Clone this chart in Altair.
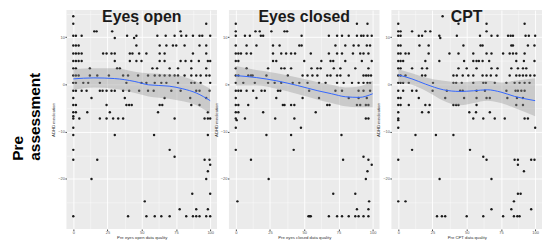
import altair as alt
import pandas as pd

# ---------------- data ----------------
# rows: (ADHD value, [data-quality x values])
EO_ROWS = [
    (14.47, [0]),
    (12.86, [0, 46.8, 97.1]),
    (11.25, [15.3, 17.0, 28.4, 78.4]),
    (10.34, [0, 1.9, 6.1, 39.3, 46.1, 61.4, 67.5, 74.0, 78.9, 82.5, 87.4, 92.2, 94.2, 100]),
    (9.85, [30.3, 44.4]),
    (8.25, [0, 1.9, 3.9, 46.1, 63.1, 68.0, 72.8, 75.2, 81.3, 92.2, 97.1]),
    (6.57, [0, 1.9, 3.9, 6.1, 21.8, 24.3, 27.9, 30.3, 41.3, 43.2, 48.1, 53.4, 63.1, 66.7, 87.4, 97.1]),
    (4.96, [0, 1.9, 3.9, 6.1, 30.3, 41.3, 46.1, 49.8, 63.1, 66.7, 78.4, 82.0, 86.2, 91.7, 98.3, 100]),
    (3.42, [0, 1.9, 12.1, 32.0, 34.0, 57.8, 61.2, 70.4, 76.5, 86.2, 97.1]),
    (1.89, [0, 1.9, 3.9, 12.1, 17.5, 26.0, 36.4, 40.0, 47.3, 54.6, 59.5, 63.1, 66.7, 70.4, 74.0, 76.5, 81.3, 86.2, 89.8, 93.0, 97.1, 99.5]),
    (0.35, [0, 1.9, 7.3, 10.9, 19.4, 38.8, 49.8, 53.4, 59.5, 64.3, 68.0, 76.5, 86.2, 88.6, 93.0, 100]),
    (-1.33, [0, 1.9, 6.1, 9.7, 19.4, 21.4, 24.3, 27.9, 30.3, 36.4, 40.8, 48.1, 54.6, 58.7, 71.6, 78.4, 89.8, 92.2, 99.5]),
    (-2.87, [0, 13.3, 37.6, 66.7, 85.4, 97.1]),
    (-4.33, [0, 1.9, 24.3, 38.8, 40.8, 42.7, 63.1, 65.0, 86.2, 92.2]),
    (-5.87, [0, 1.9, 10.2, 26.7, 61.9, 98.3]),
    (-6.71, [0]),
    (-7.20, [0, 4.4, 19.4, 24.3, 29.1, 32.8, 36.4, 74.0, 95.9, 98.3, 100]),
    (-9.15, [0]),
    (-10.69, [0, 30.3, 59.0, 98.3]),
    (-13.84, [0, 70.4]),
    (-15.30, [74.0]),
    (-15.93, [0, 17.5, 95.9, 99.5]),
    (-16.98, [100]),
    (-18.38, [98.3]),
    (-19.99, [13.3, 97.1]),
    (-23.13, [86.9, 100]),
    (-24.74, [52.2]),
    (-26.42, [77.7, 89.8, 98.3]),
    (-27.88, [0, 40.0, 53.4, 59.5, 64.3, 70.4, 82.5, 87.4, 89.8, 92.2, 97.1, 100]),
]

EC_ROWS = [
    (12.86, [0, 88.5, 96.2]),
    (11.25, [0, 14.4, 17.5, 26.0, 35.6, 37.5]),
    (10.34, [0, 6.7, 10.3, 18.3, 20.0, 48.1, 68.0, 74.0, 77.6, 82.5, 88.5, 91.6, 93.3, 96.2, 99.3]),
    (8.25, [0, 7.9, 15.1, 27.2, 32.0, 46.4, 48.1, 72.8, 80.0, 86.1, 89.7, 95.7, 98.1]),
    (6.57, [0, 1.9, 3.8, 7.9, 11.1, 27.2, 33.2, 36.8, 40.4, 43.3, 54.8, 68.0, 74.0, 77.6, 85.6, 90.9, 93.3, 96.9]),
    (4.96, [0, 1.9, 27.2, 29.6, 50.0, 62.5, 69.2, 71.2, 80.0, 92.1, 99.3]),
    (3.42, [0, 7.9, 23.6, 33.2, 35.6, 40.4, 55.3, 59.6, 62.0, 71.6, 76.4, 87.3, 96.9]),
    (1.89, [0, 1.9, 9.1, 11.1, 12.3, 22.4, 38.0, 48.8, 52.4, 56.0, 59.6, 66.8, 69.2, 74.0, 76.4, 82.5, 93.3, 95.2, 96.9, 98.8]),
    (0.35, [0, 5.5, 13.9, 23.6, 28.4, 33.2, 41.6, 46.4, 52.4, 60.8, 65.6, 74.0, 78.8, 84.9, 89.7, 93.3, 96.2, 98.1]),
    (-1.33, [0, 1.9, 3.8, 7.9, 12.7, 18.8, 21.2, 30.8, 32.5, 53.6, 72.8, 77.6, 89.7, 93.3, 98.1]),
    (-2.87, [0, 15.1, 29.6, 48.8, 60.8, 82.5, 89.7, 95.7]),
    (-4.33, [0, 1.9, 9.1, 34.4, 35.6, 40.4, 42.8, 66.8, 68.5, 88.5, 90.9, 95.0, 96.9]),
    (-5.87, [0, 1.9, 20.0, 58.4]),
    (-7.20, [0, 6.7, 28.8, 42.8, 95.0, 96.9]),
    (-7.55, [0.7]),
    (-9.15, [0, 47.6]),
    (-10.69, [22.4, 40.4, 77.2]),
    (-13.84, [0, 42.3]),
    (-15.30, [93.3]),
    (-15.93, [11.1, 78.4, 96.9]),
    (-16.98, [99.3]),
    (-18.38, [96.2]),
    (-19.99, [24.0, 95.0]),
    (-23.13, [71.2, 87.3]),
    (-24.74, [1.2, 97.4]),
    (-26.42, [88.5, 96.9]),
    (-27.88, [53.1, 54.1, 54.8, 68.0, 74.0, 77.6, 82.5, 87.3, 89.7, 93.3, 96.9]),
]

CPT_ROWS = [
    (14.47, [32.4]),
    (12.86, [0, 44.0, 64.5, 92.3]),
    (11.25, [0, 1.7, 10.1, 19.8, 23.4, 64.5]),
    (10.34, [0, 1.7, 15.0, 17.4, 30.0, 42.8, 59.7, 68.1, 72.5, 80.2, 82.1, 83.8, 93.0, 95.4, 100]),
    (9.85, [30.7]),
    (8.25, [0, 1.7, 15.5, 22.2, 47.6, 60.1, 61.6, 82.6, 83.8, 94.7, 99.5]),
    (6.57, [0, 1.7, 5.3, 7.7, 22.2, 37.4, 44.0, 54.8, 64.5, 68.1, 76.6, 81.4, 83.8, 86.2, 92.3]),
    (4.96, [0, 1.7, 3.6, 19.8, 30.0, 48.1, 54.8, 57.2, 58.9, 61.6, 66.4, 86.2, 91.8, 99.5]),
    (3.42, [0, 1.7, 10.1, 17.4, 21.0, 44.0, 50.0, 57.2, 68.1, 72.5, 82.6, 87.4, 91.1, 93.5]),
    (1.89, [0, 1.7, 5.3, 17.4, 19.8, 40.3, 42.8, 47.1, 51.2, 54.8, 61.6, 64.5, 67.6, 71.7, 81.4, 86.2, 88.6, 91.1, 93.5, 96.4, 99.5]),
    (0.35, [0, 1.7, 3.6, 7.7, 25.4, 40.3, 42.3, 46.4, 54.8, 62.1, 64.0, 70.5, 79.0, 85.0, 88.6, 92.3, 95.9]),
    (-1.33, [0, 3.6, 10.1, 13.3, 25.1, 35.5, 45.2, 47.1, 57.2, 63.3, 79.0, 85.7, 87.4, 89.9, 92.3]),
    (-2.87, [0, 1.7, 15.0, 34.3, 48.1, 57.2, 64.5, 66.9, 79.7, 86.7, 91.1]),
    (-4.33, [0, 1.7, 7.7, 19.8, 22.9, 40.3, 42.3, 44.0, 57.2, 86.2, 91.1]),
    (-5.87, [0, 17.4, 22.2, 51.9, 56.8, 66.9]),
    (-7.20, [0, 54.8, 62.1, 70.5, 77.8, 92.3, 94.7]),
    (-7.55, [0]),
    (-9.15, [0, 100]),
    (-10.69, [12.6, 27.5, 40.3]),
    (-13.84, [10.1, 52.4]),
    (-15.30, [62.1]),
    (-15.93, [0, 64.5, 85.0, 87.4, 97.1, 99.5]),
    (-16.98, [87.4]),
    (-18.38, [91.8]),
    (-19.99, [30.2, 68.1]),
    (-23.13, [87.4, 89.4]),
    (-24.74, [0, 5.3, 84.5]),
    (-26.42, [68.1, 82.6, 97.1]),
    (-27.88, [28.3, 31.9, 34.3, 50.0, 62.1, 76.6, 84.5, 87.0, 88.6]),
]

# loess fit and confidence band
EO_SX = [0, 15, 30, 45, 55, 70, 80, 90, 100]
EO_FIT = [1.19, 1.40, 1.26, 0.63, -0.07, -0.35, -0.91, -1.82, -3.42]
EO_LO = [-1.12, -0.63, -0.91, -1.82, -2.52, -3.00, -3.56, -4.40, -6.19]
EO_HI = [3.21, 3.42, 3.42, 2.72, 2.38, 2.17, 1.68, 0.63, -0.91]

EC_SX = [0, 15, 30, 45, 60, 70, 80, 90, 100]
EC_FIT = [1.89, 1.47, 0.77, -0.21, -1.33, -1.96, -2.59, -2.73, -1.96]
EC_LO = [-0.21, -0.21, -0.91, -2.03, -3.21, -3.91, -4.61, -4.82, -4.82]
EC_HI = [3.91, 3.07, 2.38, 1.47, 0.49, -0.07, -0.63, -0.42, 0.77]

CPT_SX = [0, 10, 20, 33, 45, 55, 65, 75, 85, 100]
CPT_FIT = [2.03, 1.19, 0.07, -1.12, -1.47, -1.33, -1.12, -1.61, -2.52, -3.42]
CPT_LO = [0.49, -0.07, -1.33, -3.42, -4.40, -3.91, -3.42, -3.91, -4.96, -6.71]
CPT_HI = [3.21, 2.38, 1.47, 0.77, 0.49, 0.63, 0.77, 0.42, 0.77, 1.33]

TITLES = ["Eyes open", "Eyes closed", "CPT"]
XTITLES = ["Pre eyes open data quality", "Pre eyes closed data quality", "Pre CPT data quality"]
YTITLE = "ADHD medication"
ROW_LABEL = ["Pre", "assessment"]

X_TICKS = [0, 12.5, 25, 37.5, 50, 62.5, 75, 87.5, 100]
Y_TICKS = [-25, -20, -15, -10, -5, 0, 5, 10, 15]

W, H = 152, 221
FONT = "Liberation Sans"


def panel(rows, sx, fit, lo, hi, title, xtitle, first=False):
    pts = pd.DataFrame([(x, y) for y, xs in rows for x in xs], columns=["x", "y"])
    sm = pd.DataFrame({"x": sx, "fit": fit, "lo": lo, "hi": hi})
    xsc = alt.Scale(domain=[-5, 105], nice=False, zero=False)
    ysc = alt.Scale(domain=[-30.6, 15.76], nice=False, zero=False)
    xaxis = alt.Axis(
        values=X_TICKS,
        labelExpr="datum.value % 25 === 0 ? datum.label : ''",
        tickOpacity={"condition": {"test": "datum.value % 25 !== 0", "value": 0}, "value": 1},
        gridWidth={"condition": {"test": "datum.value % 25 !== 0", "value": 0.4}, "value": 0.9},
        titlePadding=0.5,
    )
    yaxis = alt.Axis(
        values=Y_TICKS,
        labelExpr="datum.value % 10 === 0 ? datum.label : ''",
        tickOpacity={"condition": {"test": "datum.value % 10 !== 0", "value": 0}, "value": 1},
        gridWidth={"condition": {"test": "datum.value % 10 !== 0", "value": 0.4}, "value": 0.9},
    )
    X = lambda f: alt.X(f, type="quantitative", scale=xsc, axis=xaxis, title=xtitle)
    Y = lambda f: alt.Y(f, type="quantitative", scale=ysc, axis=yaxis, title=YTITLE)

    points = alt.Chart(pts).mark_circle(size=6, color="#1a1a1a", opacity=1).encode(x=X("x"), y=Y("y"))
    band = alt.Chart(sm).mark_area(color="#999999", opacity=0.4, interpolate="monotone").encode(
        x=X("x"), y=Y("lo"), y2="hi")
    line = alt.Chart(sm).mark_line(color="#3366FF", strokeWidth=1, interpolate="monotone").encode(
        x=X("x"), y=Y("fit"))
    ttl = alt.Chart(pd.DataFrame({"t": [title]})).mark_text(
        font=FONT, fontSize=16, fontWeight="bold", color="#1a1a1a", align="center", baseline="alphabetic"
    ).encode(text="t:N", x=alt.value(W / 2), y=alt.value(12))
    layers = [points, band, line, ttl]
    if first:
        for lbl, xp in zip(ROW_LABEL, [-43.5, -27.0]):
            layers.append(
                alt.Chart(pd.DataFrame({"t": [lbl]})).mark_text(
                    font=FONT, fontSize=15.5, fontWeight="bold", color="#000000", angle=270,
                    align="left", baseline="alphabetic"
                ).encode(text="t:N", x=alt.value(xp), y=alt.value(152))
            )
    return alt.layer(*layers).properties(width=W, height=H)


p1 = panel(EO_ROWS, EO_SX, EO_FIT, EO_LO, EO_HI, TITLES[0], XTITLES[0], first=True)
p2 = panel(EC_ROWS, EC_SX, EC_FIT, EC_LO, EC_HI, TITLES[1], XTITLES[1])
p3 = panel(CPT_ROWS, CPT_SX, CPT_FIT, CPT_LO, CPT_HI, TITLES[2], XTITLES[2])

chart = alt.hconcat(p1, p2, p3, spacing=12, bounds="flush").properties(
    padding={"left": 3, "top": 0, "right": 0, "bottom": 0}
).configure(background="white").configure_view(
    fill="#EBEBEB", strokeWidth=0
).configure_axis(
    grid=True, gridColor="#FFFFFF", domain=False, tickColor="#444444", tickSize=1.5,
    labelFontSize=4, labelColor="#555555", labelPadding=0.5, labelFont=FONT,
    titleFontSize=4.3, titleFontWeight="normal", titleColor="#333333", titlePadding=2, titleFont=FONT,
    minExtent=0,
)

chart.save("out.html", embed_options={"renderer": "svg", "actions": False})
